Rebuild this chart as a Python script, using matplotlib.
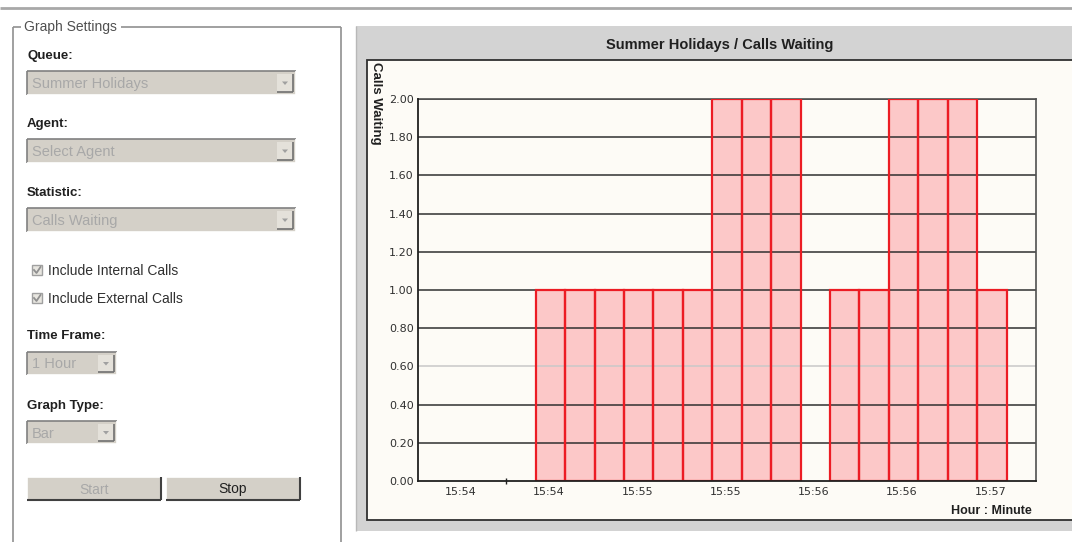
import matplotlib
matplotlib.use("Agg")
import matplotlib.pyplot as plt
from matplotlib.patches import Rectangle, Polygon

plt.rcParams['font.family'] = ['Liberation Sans', 'DejaVu Sans']

# data: calls waiting per time slot
slots = list(range(21))
calls_waiting = [0, 0, 0, 0, 1, 1, 1, 1, 1, 1, 2, 2, 2, 0, 1, 1, 2, 2, 2, 1, 0]
tick_slots = [1, 4, 7, 10, 13, 16, 19]
tick_labels = ["15:54", "15:54", "15:55", "15:55", "15:56", "15:56", "15:57"]
y_ticks = [0.0, 0.2, 0.4, 0.6, 0.8, 1.0, 1.2, 1.4, 1.6, 1.8, 2.0]

W, H = 1072, 542
fig = plt.figure(figsize=(W / 100, H / 100), dpi=100)
fig.patch.set_facecolor("white")

# background axes in pixel coordinates for the form controls
bg = fig.add_axes([0, 0, 1, 1])
bg.set_xlim(0, W)
bg.set_ylim(H, 0)
bg.axis("off")

FACE = "#d4d0c8"


def line(x0, y0, x1, y1, color="#808080", lw=1.0):
    bg.plot([x0, x1], [y0, y1], color=color, lw=lw, solid_capstyle="butt")


def combo(x, y, w, h, text):
    bg.add_patch(Rectangle((x, y), w, h, facecolor=FACE, edgecolor="none"))
    line(x, y, x + w, y, "#808080", 1.2)
    line(x, y, x, y + h, "#808080", 1.2)
    line(x, y + h, x + w, y + h, "white", 1.2)
    line(x + w, y, x + w, y + h, "white", 1.2)
    # drop-down button
    bx, by, bw, bh = x + w - 19, y + 3, 16, h - 6
    bg.add_patch(Rectangle((bx, by), bw, bh, facecolor="#e4e1da", edgecolor="none"))
    line(bx, by + bh, bx + bw, by + bh, "#707070", 1.2)
    line(bx + bw, by, bx + bw, by + bh, "#707070", 1.2)
    cx, cy = bx + bw / 2, by + bh / 2
    bg.add_patch(Polygon([(cx - 3, cy - 1.5), (cx + 3, cy - 1.5), (cx, cy + 2)],
                         facecolor="#a0a0a0", edgecolor="none"))
    bg.text(x + 5, y + h / 2 + 1, text, fontsize=10.5, color="#a8a8a8", va="center", ha="left")


def checkbox(x, y, text):
    bg.add_patch(Rectangle((x, y - 5), 10, 10, facecolor="#e8e6e0", edgecolor="#a0a0a0", lw=1))
    bg.plot([x + 2, x + 4.5, x + 8.5], [y, y + 3, y - 3], color="#909090", lw=1.3)
    bg.text(x + 16, y + 1, text, fontsize=10, color="#303030", va="center", ha="left")


def button(x, y, w, h, text, color):
    bg.add_patch(Rectangle((x, y), w, h, facecolor=FACE, edgecolor="none"))
    line(x, y, x + w, y, "white", 1.2)
    line(x, y, x, y + h, "white", 1.2)
    line(x, y + h, x + w, y + h, "#404040", 1.5)
    line(x + w, y, x + w, y + h, "#404040", 1.5)
    bg.text(x + w / 2, y + h / 2 + 1, text, fontsize=10, color=color, va="center", ha="center")


# top separator
line(0, 7.5, W, 7.5, "#a8a8a8", 2.0)

# fieldset
line(12.5, 27, 12.5, H, "#909090", 1.2)
line(12.5, 27, 21, 27, "#909090", 1.2)
line(121, 27, 340.5, 27, "#909090", 1.2)
line(340.5, 27, 340.5, H, "#909090", 1.2)
bg.text(24, 27, "Graph Settings", fontsize=10, color="#505050", va="center", ha="left")

bg.text(27, 56, "Queue:", fontsize=9.5, fontweight="bold", color="#202020", va="center")
combo(27, 71, 269, 24, "Summer Holidays")
bg.text(27, 124, "Agent:", fontsize=9.5, fontweight="bold", color="#202020", va="center")
combo(27, 139, 269, 24, "Select Agent")
bg.text(27, 193, "Statistic:", fontsize=9.5, fontweight="bold", color="#202020", va="center")
combo(27, 208, 269, 24, "Calls Waiting")

checkbox(32, 270, "Include Internal Calls")
checkbox(32, 298, "Include External Calls")

bg.text(27, 336, "Time Frame:", fontsize=9.5, fontweight="bold", color="#202020", va="center")
combo(27, 352, 90, 23, "1 Hour")
bg.text(27, 406, "Graph Type:", fontsize=9.5, fontweight="bold", color="#202020", va="center")
combo(27, 421, 90, 23, "Bar")

button(27, 477, 134, 23, "Start", "#a8a8a8")
button(166, 477, 134, 23, "Stop", "#202020")

# chart panel
bg.add_patch(Rectangle((356, 26), W - 356, 505, facecolor="#d3d3d3", edgecolor="none"))
line(356, 26, 356, 531, "#b8b8b8", 1.0)
bg.add_patch(Rectangle((367, 59.5), W - 367 + 5, 460.5, facecolor="#fdfbf6",
                       edgecolor="#303030", lw=1.3))
bg.text(720, 45, "Summer Holidays / Calls Waiting", fontsize=10.5, fontweight="bold",
        color="#202020", ha="center", va="center")
bg.text(376, 62, "Calls Waiting", fontsize=9.5, fontweight="bold", color="#202020",
        rotation=-90, ha="center", va="top")
bg.text(1032, 511, "Hour : Minute", fontsize=9, fontweight="bold", color="#202020",
        ha="right", va="center")

# plot area
ax = fig.add_axes([418 / W, 1 - 481 / H, 618 / W, 382 / H])
ax.set_facecolor("#fdfbf6")
bar_x = [s for s, v in zip(slots, calls_waiting) if v > 0]
bar_v = [v for v in calls_waiting if v > 0]
ax.bar(bar_x, bar_v, width=1, align="edge", color="#fcc8c8",
       edgecolor="none", zorder=1)
for v in y_ticks[1:]:
    ax.axhline(v, color="#c8c8c8" if abs(v - 0.6) < 1e-9 else "#303030", lw=1.1, zorder=2)
ax.bar(bar_x, bar_v, width=1, align="edge", facecolor="none",
       edgecolor="#ec1c24", lw=1.6, zorder=3)
ax.set_xlim(0, 21)
ax.set_ylim(0, 2.0)
ax.set_yticks(y_ticks)
ax.set_yticklabels(["%.2f" % v for v in y_ticks], fontsize=8, color="#303030",
                   family="DejaVu Sans")
ax.set_xticks([s + 0.45 for s in tick_slots])
ax.set_xticklabels(tick_labels, fontsize=8, color="#303030", family="DejaVu Sans")
ax.tick_params(axis="y", length=0, pad=3)
ax.tick_params(axis="x", length=0, pad=4)
for side in ["left", "bottom"]:
    ax.spines[side].set_color("#202020")
    ax.spines[side].set_linewidth(1.3)
    ax.spines[side].set_zorder(5)
for side in ["top", "right"]:
    ax.spines[side].set_color("#505050")
    ax.spines[side].set_linewidth(1.2)
ax.plot([3], [0], marker="|", color="#202020", ms=4, clip_on=False, zorder=6)

fig.savefig("out.png", dpi=100)
